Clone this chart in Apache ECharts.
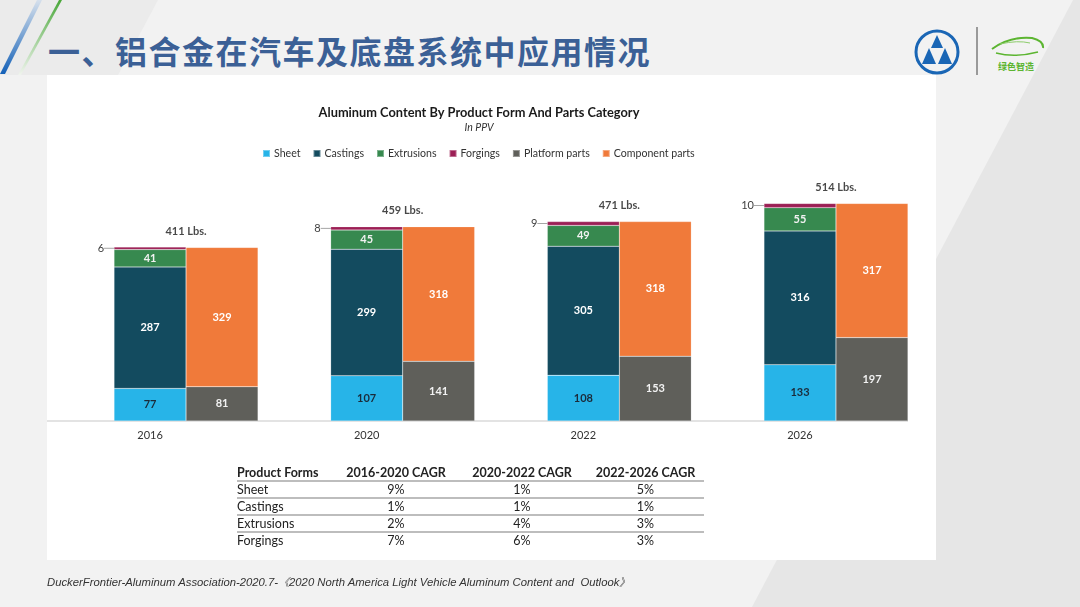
<!DOCTYPE html>
<html><head><meta charset="utf-8">
<script src="https://cdn.jsdelivr.net/npm/echarts@6/dist/echarts.min.js"></script>
<style>
html,body{margin:0;padding:0;}
#wrap{position:relative;width:1080px;height:607px;background:#f2f2f2;overflow:hidden;font-family:Lato,"Noto Sans",sans-serif;}
#deco{position:absolute;left:0;top:0;}
#chart{position:absolute;left:0;top:0;width:1080px;height:607px;}
#title{position:absolute;left:48px;top:29px;font-family:"Noto Sans CJK SC";font-weight:bold;font-size:32px;letter-spacing:1.5px;color:#3b6096;white-space:nowrap;line-height:42px;}
#tbl{position:absolute;left:237px;top:465px;border-collapse:collapse;font-family:Lato,sans-serif;font-size:12.5px;color:#222;}
#tbl td{padding:0;height:16.7px;line-height:15px;box-sizing:border-box;}
#tbl tr.b td{border-bottom:2px solid #bdbdbd;}
#tbl td.c{text-align:center;}
#tbl th{font-weight:bold;padding:0;height:16px;line-height:14px;text-align:center;border-bottom:2px solid #bdbdbd;box-sizing:border-box;}
#tbl th.l{text-align:left;}
#foot{position:absolute;left:47px;top:575px;font-family:"Liberation Sans";font-style:italic;font-size:11.3px;color:#333;white-space:nowrap;}
#brand{position:absolute;left:998px;top:60px;font-family:"Noto Sans CJK SC";font-weight:bold;font-size:9px;color:#5cb531;}
</style></head>
<body>
<div id="wrap">
<svg id="deco" width="1080" height="607">
  <defs>
    <linearGradient id="gb" x1="0" y1="1" x2="0" y2="0">
      <stop offset="0" stop-color="#1461b8"/><stop offset="1" stop-color="#d6e0ec"/>
    </linearGradient>
    <linearGradient id="gg" x1="0" y1="0" x2="0" y2="1">
      <stop offset="0" stop-color="#4aa83a"/><stop offset="1" stop-color="#f0f4ee"/>
    </linearGradient>
  </defs>
  <polygon points="0,0 158,0 118,75 0,75" fill="#ebebeb"/>
  <polygon points="1073,0 1080,0 1080,607 752,607" fill="#e6e6e6"/>
  <polygon points="0,74 5,74 42,0 37,0" fill="url(#gb)"/>
  <polygon points="18,75 21,75 62,0 59,0" fill="url(#gg)"/>
  <rect x="47" y="75" width="889" height="485" fill="#ffffff"/>
  <line x1="47" y1="421" x2="908" y2="421" stroke="#e3e3e3" stroke-width="2"/>
  <circle cx="937" cy="52" r="21" fill="none" stroke="#1a66b5" stroke-width="3"/>
  <polygon points="937,35 943,48 931,48" fill="#1a66b5"/>
  <polygon points="929,48 936,64 922,64" fill="#1a66b5"/>
  <polygon points="945,48 952,64 938,64" fill="#1a66b5"/>
  <line x1="977" y1="27" x2="977" y2="75" stroke="#9a9a9a" stroke-width="2"/>
  <path d="M992,49 Q1010,36 1032,38 Q1044,41 1043,48" fill="none" stroke="#5cb531" stroke-width="2"/>
  <path d="M996,53 Q1015,58 1038,52" fill="none" stroke="#5cb531" stroke-width="1.5"/>
  <path d="M1000,44 Q1018,40 1030,43" fill="none" stroke="#8ccc6a" stroke-width="1"/>
</svg>
<div id="title">一、铝合金在汽车及底盘系统中应用情况</div>
<div id="brand">绿色智造</div>
<div id="chart"></div>
<table id="tbl"></table>
<div id="foot">DuckerFrontier-Aluminum Association-2020.7-《2020 North America Light Vehicle Aluminum Content and&nbsp; Outlook》</div>
</div>
<script>
// ---- data ----
const categories = ['2016', '2020', '2022', '2026'];
const sheet = [77, 107, 108, 133];
const castings = [287, 299, 305, 316];
const extrusions = [41, 45, 49, 55];
const forgings = [6, 8, 9, 10];
const platformParts = [81, 141, 153, 197];
const componentParts = [329, 318, 318, 317];
const totals = [411, 459, 471, 514];
const seriesNames = ['Sheet', 'Castings', 'Extrusions', 'Forgings', 'Platform parts', 'Component parts'];
const chartTitle = 'Aluminum Content By Product Form And Parts Category';
const chartSubtitle = 'In PPV';
const tableHeader = ['Product Forms', '2016-2020 CAGR', '2020-2022 CAGR', '2022-2026 CAGR'];
const productForms = ['Sheet', 'Castings', 'Extrusions', 'Forgings'];
const cagr2016_2020 = ['9%', '1%', '2%', '7%'];
const cagr2020_2022 = ['1%', '1%', '4%', '6%'];
const cagr2022_2026 = ['5%', '1%', '3%', '3%'];

// ---- table ----
(function(){
  const t = document.getElementById('tbl');
  const widths = [98, 122, 130, 117];
  let h = '<tr>' + tableHeader.map((s,i)=>'<th class="'+(i===0?'l':'')+'" style="width:'+widths[i]+'px">'+s+'</th>').join('') + '</tr>';
  productForms.forEach((p,i)=>{
    h += '<tr class="'+(i<productForms.length-1?'b':'')+'"><td>'+p+'</td><td class="c">'+cagr2016_2020[i]+'</td><td class="c">'+cagr2020_2022[i]+'</td><td class="c">'+cagr2022_2026[i]+'</td></tr>';
  });
  t.innerHTML = h;
})();

// ---- chart ----
const colors = ['#27b4e8', '#134b5f', '#37894f', '#9c1f55', '#5f5f5a', '#f07a3a'];
const chart = echarts.init(document.getElementById('chart'), null, {renderer:'canvas'});
const font = 'Lato';
function barSeries(name, data, stack, color, labelColor, extra){
  return Object.assign({
    name, type:'bar', stack, data, barWidth:72, barGap:'0%',
    itemStyle:{color, borderColor:'rgba(255,255,255,0.35)', borderWidth:0.5},
    label:{show:true, position:'inside', color:labelColor, fontSize:11, fontFamily:font, fontWeight:'bold'},
    emphasis:{disabled:true}
  }, extra||{});
}
chart.setOption({
  animation:false,
  color: colors,
  title:{
    text: chartTitle, subtext: chartSubtitle,
    left: 474, textAlign:'center', top: 101, itemGap: 3,
    textStyle:{fontFamily:font, fontSize:12.8, fontWeight:'bold', color:'#1a1a1a'},
    subtextStyle:{fontFamily:font, fontSize:10.5, fontStyle:'italic', color:'#333'}
  },
  legend:{
    data: seriesNames, left: 257, top: 143, icon:'rect', itemWidth:7, itemHeight:7, itemGap:12,
    textStyle:{fontFamily:font, fontSize:10.6, color:'#333', padding:[0,0,0,-1]}
  },
  grid:{left:77.7, right:135.7, top:167, bottom:186},
  xAxis:{
    type:'category', data: categories,
    axisLine:{show:false}, axisTick:{show:false},
    axisLabel:{color:'#333', fontFamily:font, fontSize:11, margin:9, padding:[0,72,0,0]}
  },
  yAxis:{type:'value', min:0, max:600, show:false, splitLine:{show:false}},
  series:[
    barSeries('Sheet', sheet, 'forms', colors[0], '#1b2b3a'),
    barSeries('Castings', castings, 'forms', colors[1], '#ffffff'),
    barSeries('Extrusions', extrusions, 'forms', colors[2], '#f2f2f2'),
    barSeries('Forgings', forgings, 'forms', colors[3], '#404040', {
      label:{show:true, position:'left', distance:0, color:'#404040', fontSize:11, fontFamily:font},
      labelLayout:{dx:-10},
      labelLine:{show:true, lineStyle:{color:'#a6a6a6', width:1}}
    }),
    barSeries('Platform parts', platformParts, 'parts', colors[4], '#f2f2f2'),
    barSeries('Component parts', componentParts, 'parts', colors[5], '#ffffff'),
    {
      name:'Total', type:'scatter', data: totals, symbolSize:1,
      itemStyle:{color:'rgba(0,0,0,0)'}, silent:true,
      label:{show:true, position:'top', distance:10, formatter: p => p.value + ' Lbs.',
        fontFamily:font, fontSize:11, fontWeight:'bold', color:'#1a1a1a'}
    }
  ]
});
</script>
</body></html>
